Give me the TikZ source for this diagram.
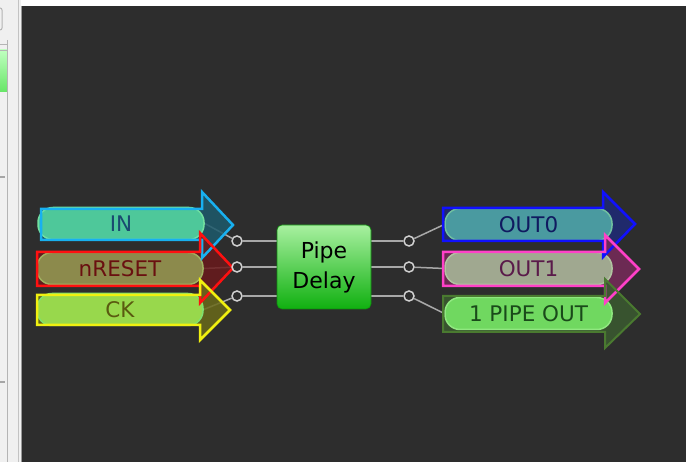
\documentclass[tikz,border=0pt]{standalone}
\usepackage{fontspec}
\setmainfont{DejaVu Sans}
\pgfdeclarelayer{back}
\pgfdeclarelayer{mid}
\pgfsetlayers{back,mid,main}
\definecolor{bgdark}{HTML}{2D2D2D}
\definecolor{panel}{HTML}{F0F0F0}
\definecolor{panelline}{HTML}{B4B4B4}
\definecolor{wirec}{HTML}{A8A8A8}
\definecolor{circc}{HTML}{D0D0D0}
% inputs
\definecolor{inO}{HTML}{18B0F0}\definecolor{inH}{HTML}{1D5A6C}\definecolor{inP}{HTML}{4EC89A}\definecolor{inB}{HTML}{72E0A0}\definecolor{inT}{HTML}{1A4A70}
\definecolor{rsO}{HTML}{FF1010}\definecolor{rsH}{HTML}{6A1A1C}\definecolor{rsP}{HTML}{8C8A4C}\definecolor{rsB}{HTML}{A0B060}\definecolor{rsT}{HTML}{6A1010}
\definecolor{ckO}{HTML}{F0F010}\definecolor{ckH}{HTML}{6A6A1A}\definecolor{ckP}{HTML}{98D84C}\definecolor{ckB}{HTML}{80E070}\definecolor{ckT}{HTML}{5A5A10}
% outputs
\definecolor{o0O}{HTML}{1010FF}\definecolor{o0H}{HTML}{1E2A78}\definecolor{o0P}{HTML}{4A9AA0}\definecolor{o0B}{HTML}{70C0A0}\definecolor{o0T}{HTML}{101A60}
\definecolor{o1O}{HTML}{FF40C8}\definecolor{o1H}{HTML}{782A5A}\definecolor{o1P}{HTML}{A0A890}\definecolor{o1B}{HTML}{B0C4A0}\definecolor{o1T}{HTML}{5A1A4A}
\definecolor{o2O}{HTML}{4A7A30}\definecolor{o2H}{HTML}{3A5A30}\definecolor{o2P}{HTML}{70D860}\definecolor{o2B}{HTML}{90E880}\definecolor{o2T}{HTML}{1A4A1A}
\definecolor{blkTop}{HTML}{A8F0A0}\definecolor{blkBot}{HTML}{10B010}
\tikzset{
  pill/.style={rectangle, rounded corners=15pt, line width=1.5pt, inner sep=0pt,
    minimum height=32pt, font=\fontsize{21.5}{26}\selectfont},
  wire/.style={draw=wirec, line width=1.5pt},
  pin/.style={circle, draw=circc, fill=bgdark, line width=1.5pt, minimum size=10pt, inner sep=0pt},
  arrowline/.style={line width=2.5pt, line join=miter},
  block/.style={rectangle, rounded corners=5pt, top color=blkTop, bottom color=blkBot,
    draw=blkBot!80!black, line width=0.6pt, align=center, text=black,
    font=\fontsize{22}{30}\selectfont, minimum width=94pt, minimum height=84pt}
}
% #1 x0, #2 x1, #3 yt, #4 yb, #5 ht, #6 hb, #7 tip x, #8 tip y
\newcommand{\arrowpath}[8]{(#1,#3) -- (#2,#3) -- (#2,#5) -- (#7,#8) -- (#2,#6) -- (#2,#4) -- (#1,#4) -- cycle}
\begin{document}
\begin{tikzpicture}[x=1pt,y=-1pt]
\useasboundingbox (0,0) rectangle (686,462);
\begin{pgfonlayer}{back}
  \fill[white] (0,0) rectangle (686,6);
  \fill[bgdark] (22,6) rectangle (686,462);
  % left panel
  \fill[panel] (0,0) rectangle (21,462);
  \draw[panelline, line width=1pt] (7.5,40) -- (7.5,462);
  \draw[panelline!80, line width=1pt] (18,0) -- (18,462);
  \draw[black!40, line width=1pt] (21.5,6) -- (21.5,462);
  \draw[panelline, line width=1pt, rounded corners=2pt] (-4,8) -- (2,8) -- (2,30) -- (-4,30);
  \draw[panelline, line width=1pt] (0,45) -- (8,45);
  \shade[top color=green!25!white, bottom color=green!55!white!90!black] (0,50) rectangle (7,92);
  \draw[panelline, line width=0.8pt] (0,50) -- (7,50) -- (7,92);
  \fill[black!35] (0,176) rectangle (5,178);
  \fill[black!35] (0,381) rectangle (5,383);
\end{pgfonlayer}

% arrow fills
\begin{pgfonlayer}{mid}
  \fill[inH, opacity=0.85] \arrowpath{41}{202}{209}{240}{192}{258}{233}{225};
  \fill[rsH, opacity=0.85] \arrowpath{37}{200}{252}{286}{233}{303}{233}{268};
  \fill[ckH, opacity=0.85] \arrowpath{37}{200}{295}{325}{280}{340}{230}{310};
  \fill[o0H, opacity=0.85] \arrowpath{443}{603}{208}{241}{192}{257}{635}{224};
  \fill[o1H, opacity=0.85] \arrowpath{443}{605}{252}{286}{235}{303}{639}{269};
  \fill[o2H, opacity=0.85] \arrowpath{443}{605}{296}{332}{279}{348}{640}{314};
\end{pgfonlayer}

% pills
\node[pill, fill=inP, draw=inB, text=inT, minimum width=166pt] (in) at (121,223.5) {IN};
\node[pill, fill=rsP, draw=rsB, text=rsT, minimum width=166pt] (rs) at (120,268.5) {nRESET};
\node[pill, fill=ckP, draw=ckB, text=ckT, minimum width=166pt] (ck) at (120,309.5) {CK};
\node[pill, fill=o0P, draw=o0B, text=o0T, minimum width=167pt] (o0) at (528.5,224.5) {OUT0};
\node[pill, fill=o1P, draw=o1B, text=o1T, minimum width=167pt] (o1) at (528.5,268.5) {OUT1};
\node[pill, fill=o2P, draw=o2B, text=o2T, minimum width=167pt] (o2) at (528.5,313.5) {1 PIPE OUT};

% arrow outlines
\draw[arrowline, inO] \arrowpath{41}{202}{209}{240}{192}{258}{233}{225};
\draw[arrowline, rsO] \arrowpath{37}{200}{252}{286}{233}{303}{233}{268};
\draw[arrowline, ckO] \arrowpath{37}{200}{295}{325}{280}{340}{230}{310};
\draw[arrowline, o0O] \arrowpath{443}{603}{208}{241}{192}{257}{635}{224};
\draw[arrowline, o1O] \arrowpath{443}{605}{252}{286}{235}{303}{639}{269};
\draw[arrowline, o2O, line width=2pt] \arrowpath{443}{605}{296}{332}{279}{348}{640}{314};

% block and pins
\node[block] (pd) at (324,267) {Pipe\\Delay};
\node[pin] (l1) at (237,241) {};
\node[pin] (l2) at (237,267) {};
\node[pin] (l3) at (237,296) {};
\node[pin] (r1) at (409,241) {};
\node[pin] (r2) at (409,267) {};
\node[pin] (r3) at (409,296) {};

% wires
\begin{pgfonlayer}{back}
  \draw[wire] (in.east) -- (l1);
  \draw[wire] (rs.east) -- (l2);
  \draw[wire] (ck.east) -- (l3);
  \draw[wire] (l1) -- (l1 -| pd.west);
  \draw[wire] (l2) -- (l2 -| pd.west);
  \draw[wire] (l3) -- (l3 -| pd.west);
  \draw[wire] (r1 -| pd.east) -- (r1);
  \draw[wire] (r2 -| pd.east) -- (r2);
  \draw[wire] (r3 -| pd.east) -- (r3);
  \draw[wire] (r1) -- (o0.west);
  \draw[wire] (r2) -- (o1.west);
  \draw[wire] (r3) -- (o2.west);
\end{pgfonlayer}
\end{tikzpicture}
\end{document}
